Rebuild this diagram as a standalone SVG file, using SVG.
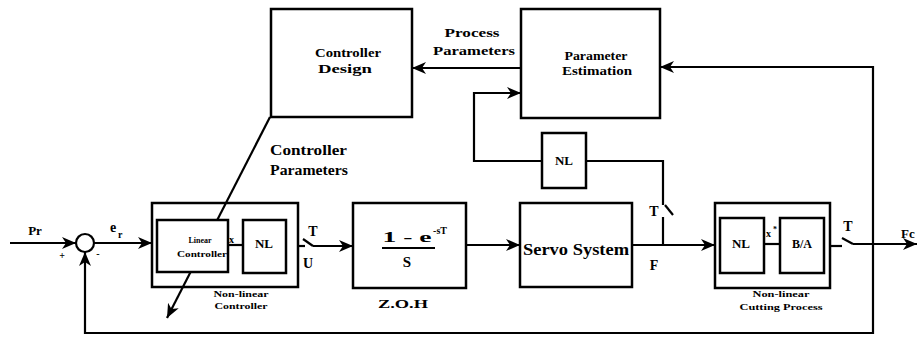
<svg xmlns="http://www.w3.org/2000/svg" width="920" height="337" viewBox="0 0 920 337">
<defs>
<marker id="ah" markerUnits="userSpaceOnUse" markerWidth="16" markerHeight="12" refX="14" refY="6" orient="auto">
<path d="M0,0 L14,6 L0,12 L4,6 z" fill="#000"/>
</marker>
<style>
.box{fill:#fff;stroke:#000;stroke-width:2.5}
.obox{fill:none;stroke:#000;stroke-width:2.5}
.ln{fill:none;stroke:#000;stroke-width:2.2}
.arr{fill:none;stroke:#000;stroke-width:2.2;marker-end:url(#ah)}
.c{text-anchor:middle}
</style>
</defs>
<rect width="920" height="337" fill="#fff"/>
<g id="connectors">
<path class="arr" d="M10,243 H76"/>
<path class="arr" d="M94,243 H152"/>
<path class="arr" d="M270,117 L167,318"/>
<path class="ln" d="M298,246 H305"/>
<path class="ln" d="M303,239 L313,246"/>
<path class="arr" d="M313,246 H353"/>
<path class="arr" d="M466,245 H520"/>
<path class="arr" d="M632,245 H715"/>
<path class="ln" d="M830,246 H842"/>
<path class="ln" d="M842,238 L853,244"/>
<path class="arr" d="M853,244 H917"/>
<path class="arr" d="M873,244 V67 H660"/>
<path class="arr" d="M873,244 V333 H85 V252"/>
<path class="arr" d="M521,68 H412"/>
<path class="ln" d="M663,245 V217"/>
<path class="ln" d="M665,205 L673,215"/>
<path class="ln" d="M663,205 V161 H586"/>
<path class="arr" d="M542,161 H474 V93 H521"/>
</g>
<g font-family="'Liberation Serif', 'DejaVu Serif', 'Times New Roman', serif" font-weight="bold" fill="#000">
<g id="sum">
<circle cx="85" cy="243" r="9" fill="#fff" stroke="#000" stroke-width="2.2"/>
<text x="62" y="259" font-size="10" class="c">+</text>
<text x="98" y="257" font-size="10" class="c">-</text>
</g>
<g id="labels">
<text x="35" y="235" font-size="13" class="c">Pr</text>
<text x="110" y="232" font-size="14">e</text>
<text x="118" y="238" font-size="10">r</text>
<text x="313" y="236" font-size="14" class="c">T</text>
<text x="308" y="268" font-size="14" class="c">U</text>
<text x="654" y="216" font-size="14" class="c">T</text>
<text x="654" y="270" font-size="14" class="c">F</text>
<text x="848" y="231" font-size="14" class="c">T</text>
<text x="901" y="238" font-size="13">Fc</text>
<text x="472" y="37" font-size="13" class="c" textLength="55" lengthAdjust="spacingAndGlyphs">Process</text>
<text x="474" y="55" font-size="13" class="c" textLength="82" lengthAdjust="spacingAndGlyphs">Parameters</text>
<text x="270" y="155" font-size="15" textLength="77" lengthAdjust="spacingAndGlyphs">Controller</text>
<text x="270" y="175" font-size="15" textLength="78" lengthAdjust="spacingAndGlyphs">Parameters</text>
</g>
<g id="controller-design">
<rect class="box" x="271" y="9" width="141" height="108"/>
<text x="348" y="57" font-size="12" class="c" textLength="66" lengthAdjust="spacingAndGlyphs">Controller</text>
<text x="345" y="73" font-size="12" class="c" textLength="54" lengthAdjust="spacingAndGlyphs">Design</text>
</g>
<g id="parameter-estimation">
<rect class="box" x="521" y="9" width="139" height="109"/>
<text x="596" y="60" font-size="12" class="c" textLength="63" lengthAdjust="spacingAndGlyphs">Parameter</text>
<text x="597" y="75" font-size="12" class="c" textLength="70" lengthAdjust="spacingAndGlyphs">Estimation</text>
</g>
<g id="nl-feedback">
<rect class="box" x="542" y="133" width="44" height="55"/>
<text x="564" y="165" font-size="13" class="c">NL</text>
</g>
<g id="nonlinear-controller">
<rect class="obox" x="152" y="203" width="146" height="84"/>
<rect class="box" x="157" y="220" width="71" height="52"/>
<text x="200" y="243" font-size="8" class="c">Linear</text>
<text x="202" y="257" font-size="8" class="c" textLength="50" lengthAdjust="spacingAndGlyphs">Controller</text>
<path class="ln" d="M228,245 H243"/>
<text x="229" y="243" font-size="10">x</text>
<rect class="box" x="243" y="220" width="43" height="53"/>
<text x="264" y="248" font-size="13" class="c">NL</text>
<text x="241" y="297" font-size="9" class="c" textLength="55" lengthAdjust="spacingAndGlyphs">Non-linear</text>
<text x="241" y="309" font-size="9" class="c" textLength="53" lengthAdjust="spacingAndGlyphs">Controller</text>
</g>
<g id="zoh">
<rect class="box" x="353" y="203" width="113" height="85"/>
<text x="407" y="242" font-size="15" class="c" textLength="49" lengthAdjust="spacingAndGlyphs">1 - e</text>
<text x="440" y="234" font-size="10" class="c">-sT</text>
<path class="ln" d="M382,248 H435"/>
<text x="407" y="267" font-size="15" class="c">S</text>
<text x="403" y="308" font-size="13" class="c" textLength="50" lengthAdjust="spacingAndGlyphs">Z.O.H</text>
</g>
<g id="servo">
<rect class="box" x="520" y="203" width="112" height="84"/>
<text x="576" y="255" font-size="16" class="c" textLength="106" lengthAdjust="spacingAndGlyphs">Servo System</text>
</g>
<g id="cutting-process">
<rect class="obox" x="715" y="203" width="115" height="85"/>
<rect class="box" x="720" y="218" width="44" height="55"/>
<text x="741" y="248" font-size="13" class="c">NL</text>
<path class="ln" d="M764,244 H780"/>
<text x="766" y="237" font-size="10">x</text>
<text x="773" y="232" font-size="8">*</text>
<rect class="box" x="780" y="218" width="44" height="55"/>
<text x="802" y="248" font-size="12" class="c">B/A</text>
<text x="781" y="297" font-size="9" class="c" textLength="57" lengthAdjust="spacingAndGlyphs">Non-linear</text>
<text x="781" y="310" font-size="9" class="c" textLength="83" lengthAdjust="spacingAndGlyphs">Cutting Process</text>
</g>
</g>
</svg>
